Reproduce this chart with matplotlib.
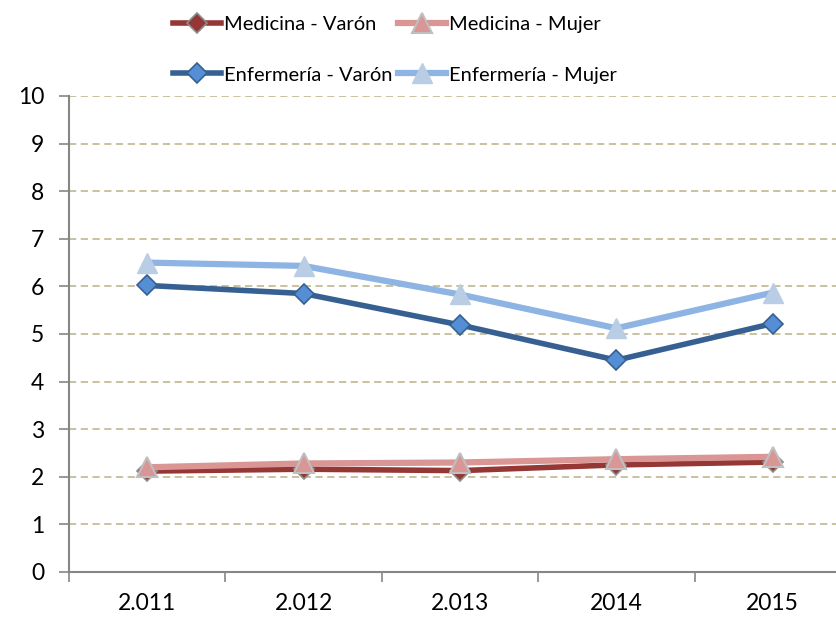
import matplotlib.pyplot as plt

plt.rcParams['font.family'] = ['Lato', 'DejaVu Sans']

years = ["2.011", "2.012", "2.013", "2014", "2015"]
med_varon = [2.12, 2.16, 2.13, 2.25, 2.31]
med_mujer = [2.20, 2.28, 2.30, 2.37, 2.42]
enf_varon = [6.02, 5.85, 5.19, 4.45, 5.22]
enf_mujer = [6.50, 6.43, 5.83, 5.12, 5.87]

x = list(range(len(years)))

fig = plt.figure(figsize=(8.36, 6.19), dpi=100)
ax = fig.add_axes([69 / 836, 47 / 619, 782 / 836, 476 / 619])

# dashed tan gridlines
for v in range(1, 11):
    ax.axhline(v, color='#C4BD97', lw=1.3, ls=(0, (4, 2.5)), zorder=0)

l1, = ax.plot(x, med_varon, color='#953735', lw=4, marker='D', markersize=10,
              markerfacecolor='#953735', markeredgecolor='#8C8C8C', markeredgewidth=1.2,
              label='Medicina - Varón', zorder=3)
l2, = ax.plot(x, med_mujer, color='#D99694', lw=4.5, marker='^', markersize=15,
              markerfacecolor='#D99694', markeredgecolor='#BFBFBF', markeredgewidth=1.5,
              label='Medicina - Mujer', zorder=4)
l3, = ax.plot(x, enf_varon, color='#376092', lw=4, marker='D', markersize=10,
              markerfacecolor='#558ED5', markeredgecolor='#376092', markeredgewidth=1.2,
              label='Enfermería - Varón', zorder=3)
l4, = ax.plot(x, enf_mujer, color='#8EB4E3', lw=4.5, marker='^', markersize=15,
              markerfacecolor='#B9CDE5', markeredgecolor='#B9CDE5', markeredgewidth=1,
              label='Enfermería - Mujer', zorder=4)

ax.set_xlim(-0.5, 4.5)
ax.set_ylim(0, 10)
ax.set_yticks(range(0, 11))
ax.set_xticks([i - 0.5 for i in x])
ax.set_xticks(x, minor=True)
ax.set_xticklabels([])
ax.set_xticklabels(years, minor=True)
ax.tick_params(axis='x', which='major', length=7, width=1.2, color='#868686', direction='out')
ax.tick_params(axis='x', which='minor', length=0, pad=15, labelsize=16.5)
ax.tick_params(axis='y', length=7, width=1.2, color='#868686', direction='out',
               pad=11, labelsize=16.5)

for side in ['top', 'right']:
    ax.spines[side].set_visible(False)
for side in ['left', 'bottom']:
    ax.spines[side].set_color('#868686')
    ax.spines[side].set_linewidth(1.5)

# column-major fill: row 1 = Medicina, row 2 = Enfermería
handles = [l1, l3, l2, l4]
fig.legend(handles, [h.get_label() for h in handles], loc='upper left',
           bbox_to_anchor=(157 / 836, 1.0), ncol=2, frameon=False,
           fontsize=14.5, handlelength=2.4, handletextpad=0.15, columnspacing=0.25,
           labelspacing=1.65, borderaxespad=0.4)

fig.savefig('out.png', dpi=100)
